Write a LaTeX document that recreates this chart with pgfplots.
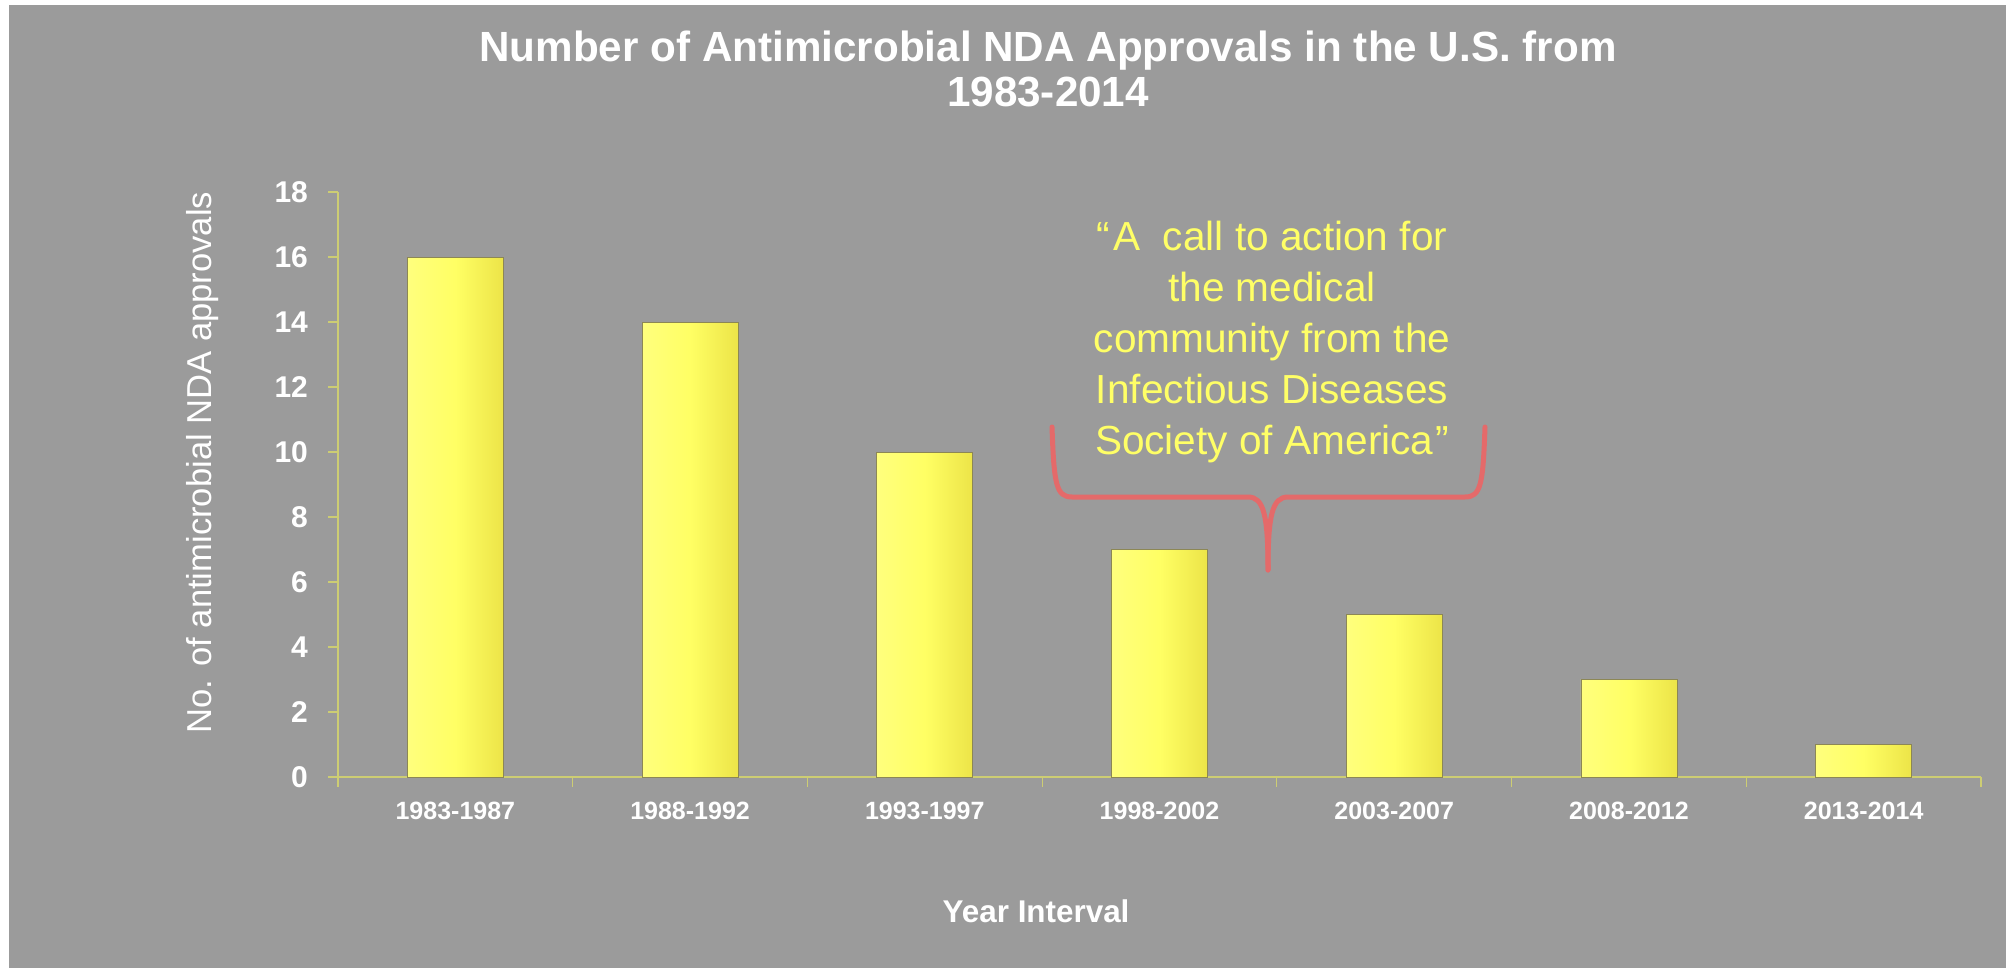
\documentclass[border=0pt]{standalone}
\usepackage{fontspec}
\setmainfont{Liberation Sans}
\usepackage{pgfplots}
\pgfplotsset{compat=1.18}

\definecolor{slidebg}{RGB}{155,155,155}
\definecolor{axisline}{RGB}{205,205,115}
\definecolor{barlight}{RGB}{255,255,125}
\definecolor{barmid}{RGB}{255,255,100}
\definecolor{bardark}{RGB}{236,228,72}
\definecolor{baredge}{RGB}{140,135,85}
\definecolor{notetext}{RGB}{255,255,102}
\definecolor{bracered}{RGB}{228,106,106}

\pgfplotsset{
  glossybar/.style={ybar, bar width=48pt, bar shift=0pt, mark=none,
    draw=baredge, line width=0.4pt,
    left color=barlight, right color=bardark, middle color=barmid},
}

\begin{document}
\begin{tikzpicture}
% slide background
\fill[white] (0pt,0pt) rectangle (1007pt,-484pt);
\fill[slidebg] (4.5pt,-2.5pt) rectangle (1003pt,-484pt);

% title
\node[align=center, text=white, font=\fontsize{21.1}{22.5}\selectfont\bfseries]
  at (524pt,-34.5pt) {Number of Antimicrobial NDA Approvals in the U.S. from\\1983-2014};

\begin{axis}[
  at={(169pt,-388.5pt)}, anchor=south west,
  scale only axis, width=821.5pt, height=292.5pt,
  xmin=-0.5, xmax=6.5, ymin=0, ymax=18,
  axis x line*=bottom, axis y line*=left,
  axis line style={axisline, line width=0.6pt},
  tick style={axisline, line width=0.6pt},
  tick align=outside, major tick length=5pt,
  xtick={-0.5,0.5,...,6.5},
  x tick label as interval,
  xticklabels={1983-1987,1988-1992,1993-1997,1998-2002,2003-2007,2008-2012,2013-2014},
  ytick={0,2,...,18},
  /pgf/number format/assume math mode=true,
  xticklabel style={text=white, font=\fontsize{12.5}{14}\selectfont\bfseries, yshift=-4pt},
  yticklabel style={text=white, font=\fontsize{15}{17}\selectfont\bfseries, xshift=-6.5pt},
  xlabel={Year Interval},
  ylabel={No. of antimicrobial NDA approvals},
  xlabel style={text=white, font=\fontsize{15.7}{18}\selectfont\bfseries,
    xshift=-61.7pt, yshift=-33.3pt},
  ylabel style={text=white, font=\fontsize{17.3}{20}\selectfont,
    yshift=21.3pt, xshift=11pt},
  clip=false,
]
% one plot per bar so that each bar carries its own shading
\addplot[glossybar] coordinates {(0,16)};
\addplot[glossybar] coordinates {(1,14)};
\addplot[glossybar] coordinates {(2,10)};
\addplot[glossybar] coordinates {(3,7)};
\addplot[glossybar] coordinates {(4,5)};
\addplot[glossybar] coordinates {(5,3)};
\addplot[glossybar] coordinates {(6,1)};
\end{axis}

% quotation and brace
\node[align=center, text=notetext, font=\fontsize{20.3}{25.4}\selectfont]
  at (636pt,-171pt) {``\kern1.5ptA\ \ call to action for\\the medical\\community from the\\Infectious Diseases\\Society of America\kern1pt''};

\draw[bracered, line width=2.5pt, line cap=round, line join=round]
  (526pt,-213.5pt) .. controls (527pt,-242pt) and (528pt,-248.5pt) .. (536pt,-248.5pt)
  -- (624pt,-248.5pt) .. controls (632pt,-248.5pt) and (634pt,-258pt) .. (634pt,-285pt);
\draw[bracered, line width=2.5pt, line cap=round, line join=round]
  (742.5pt,-213.5pt) .. controls (741.5pt,-242pt) and (740.5pt,-248.5pt) .. (732.5pt,-248.5pt)
  -- (644pt,-248.5pt) .. controls (636pt,-248.5pt) and (634pt,-258pt) .. (634pt,-285pt);
\end{tikzpicture}
\end{document}
